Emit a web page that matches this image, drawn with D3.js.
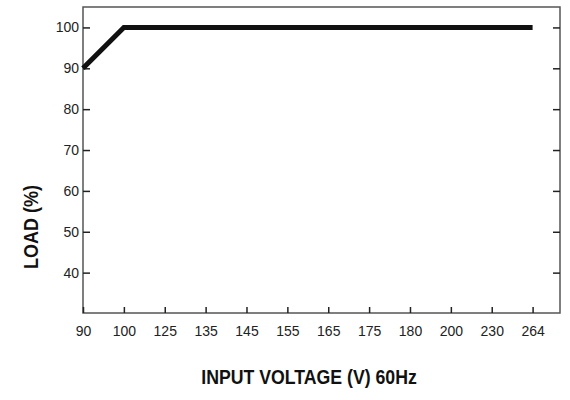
<!DOCTYPE html>
<html>
<head>
<meta charset="utf-8">
<script src="https://cdn.jsdelivr.net/npm/d3@7.9.0/dist/d3.min.js"></script>
<style>
  body { margin: 0; background: #fff; }
  svg { display: block; font-family: "Liberation Sans", Arial, sans-serif; }
  .tick text { fill: #222; font-size: 14px; }
</style>
</head>
<body>
<div id="chart"></div>
<script>
const voltageTicks = ['90', '100', '125', '135', '145', '155', '165', '175', '180', '200', '230', '264'];
const loadTicks = [40, 50, 60, 70, 80, 90, 100];
const curveVoltage = ['90', '100', '264'];
const curveLoad = [90, 100, 100];

const width = 570;
const height = 400;
const margin = { top: 7, right: 10, bottom: 87, left: 83 };

const svg = d3.select('#chart')
  .append('svg')
  .attr('width', width)
  .attr('height', height);

const xScale = d3.scalePoint()
  .domain(voltageTicks)
  .range([margin.left, 532.6]);

const yScale = d3.scaleLinear()
  .domain([30, 105])
  .range([height - margin.bottom + 0.5, margin.top]);

const plotRight = width - margin.right;
const plotBottom = height - margin.bottom;

// frame
svg.append('rect')
  .attr('x', margin.left)
  .attr('y', margin.top)
  .attr('width', plotRight - margin.left)
  .attr('height', plotBottom - margin.top)
  .attr('fill', 'none')
  .attr('stroke', '#555')
  .attr('stroke-width', 1.5);

// bottom axis, ticks inward
const xAxis = svg.append('g')
  .attr('transform', `translate(0, ${plotBottom})`)
  .call(d3.axisBottom(xScale).tickSize(-6).tickPadding(13));
xAxis.select('.domain').remove();
xAxis.selectAll('.tick line').attr('stroke', '#222').attr('stroke-width', 1.5);

// left axis, ticks inward
const yAxis = svg.append('g')
  .attr('transform', `translate(${margin.left}, 0)`)
  .call(d3.axisLeft(yScale).tickValues(loadTicks).tickSize(-7).tickPadding(4));
yAxis.select('.domain').remove();
yAxis.selectAll('.tick line').attr('stroke', '#222').attr('stroke-width', 1.5);

// right axis, ticks inward, no labels
const yAxisRight = svg.append('g')
  .attr('transform', `translate(${plotRight}, 0)`)
  .call(d3.axisRight(yScale).tickValues(loadTicks).tickSize(-7).tickFormat(''));
yAxisRight.select('.domain').remove();
yAxisRight.selectAll('.tick line').attr('stroke', '#222').attr('stroke-width', 1.5);

// load curve
const curve = curveVoltage.map((v, i) => ({ v, load: curveLoad[i] }));
svg.append('path')
  .datum(curve)
  .attr('fill', 'none')
  .attr('stroke', '#111')
  .attr('stroke-width', 5)
  .attr('stroke-linejoin', 'miter')
  .attr('d', d3.line().x(d => xScale(d.v)).y(d => yScale(d.load)));

// axis titles (condensed bold, like the original artwork)
svg.append('text')
  .attr('transform', 'translate(309, 384) scale(0.885, 1)')
  .attr('text-anchor', 'middle')
  .attr('font-size', 20)
  .attr('font-weight', 'bold')
  .attr('fill', '#111')
  .text('INPUT VOLTAGE (V) 60Hz');

svg.append('text')
  .attr('transform', 'translate(38, 227) rotate(-90) scale(0.9, 1)')
  .attr('text-anchor', 'middle')
  .attr('font-size', 20)
  .attr('font-weight', 'bold')
  .attr('fill', '#111')
  .text('LOAD (%)');
</script>
</body>
</html>
